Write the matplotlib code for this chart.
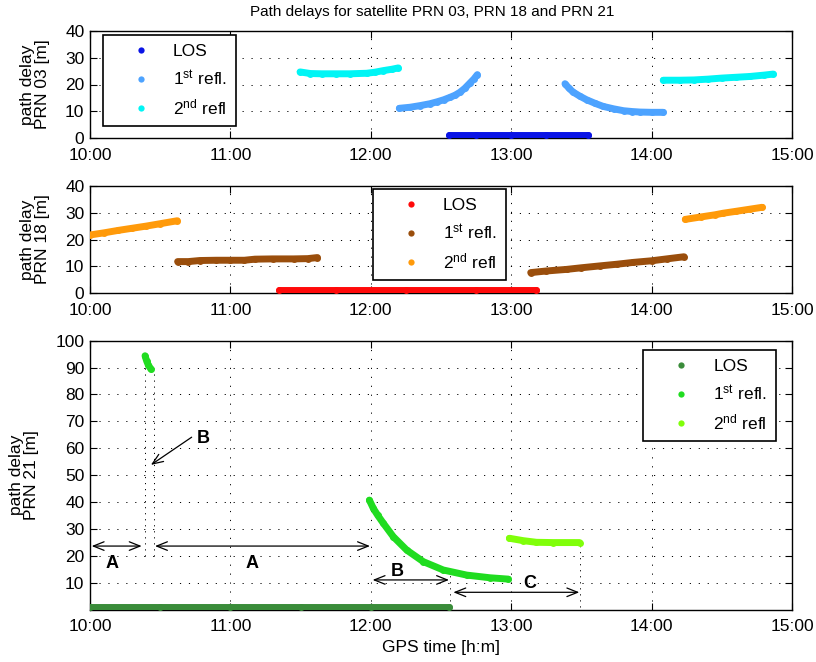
import numpy as np
import matplotlib
matplotlib.use("Agg")
import matplotlib.pyplot as plt
from matplotlib.lines import Line2D

plt.rcParams['font.family'] = ['Liberation Sans', 'DejaVu Sans']
plt.rcParams['mathtext.fontset'] = 'custom'
plt.rcParams['mathtext.rm'] = 'Liberation Sans'
plt.rcParams['mathtext.it'] = 'Liberation Sans'
nan = np.nan

# ---------------- data (GPS time in decimal hours, path delay in m) ----------------
xticks = [10, 11, 12, 13, 14, 15]
xticklabels = ['10:00', '11:00', '12:00', '13:00', '14:00', '15:00']
legend_labels = ['LOS', r'1$^{\rm st}$ refl.', r'2$^{\rm nd}$ refl']

# PRN 03
prn03_los_t = [12.555, 12.75, 13.0, 13.25, 13.548]
prn03_los_v = [1.2, 1.2, 1.2, 1.2, 1.2]
prn03_r1_t = [12.203, 12.28, 12.35, 12.42, 12.47, 12.52, 12.564, 12.60, 12.635, 12.67, 12.707, 12.735, 12.759,
              nan,
              13.383, 13.41, 13.44, 13.49, 13.537, 13.60, 13.656, 13.73, 13.80, 13.86, 13.917, 14.0, 14.083]
prn03_r1_v = [11.1, 11.5, 12.1, 12.8, 13.5, 14.3, 15.2, 16.0, 17.1, 18.6, 20.6, 22.1, 23.7,
              nan,
              20.3, 18.7, 17.2, 15.6, 14.3, 12.9, 11.8, 10.9, 10.2, 9.9, 9.7, 9.6, 9.6]
prn03_r2_t = [11.496, 11.57, 11.65, 11.75, 11.85, 11.97, 12.03, 12.09, 12.15, 12.196,
              nan,
              14.083, 14.2, 14.3, 14.4, 14.5, 14.6, 14.7, 14.8, 14.867]
prn03_r2_v = [24.7, 24.1, 24.0, 24.0, 24.0, 24.2, 24.6, 25.2, 25.7, 26.2,
              nan,
              21.6, 21.6, 21.7, 22.0, 22.4, 22.7, 23.0, 23.5, 23.9]

# PRN 18
prn18_los_t = [11.346, 11.75, 12.25, 12.75, 13.177]
prn18_los_v = [1.2, 1.2, 1.2, 1.2, 1.2]
prn18_r1_t = [10.624, 10.70, 10.783, 10.9, 11.0, 11.1, 11.175, 11.3, 11.45, 11.55, 11.62,
              nan,
              13.139, 13.25, 13.395, 13.5, 13.632, 13.75, 13.87, 14.0, 14.107, 14.231]
prn18_r1_v = [11.8, 11.8, 12.2, 12.3, 12.3, 12.3, 12.7, 12.8, 12.8, 12.9, 13.3,
              nan,
              7.7, 8.3, 8.9, 9.5, 10.2, 10.8, 11.5, 12.1, 12.8, 13.6]
prn18_r2_t = [10.0, 10.1, 10.2, 10.3, 10.4, 10.5, 10.622,
              nan,
              14.24, 14.35, 14.45, 14.51, 14.6, 14.7, 14.788]
prn18_r2_v = [21.7, 22.5, 23.4, 24.2, 25.0, 25.9, 27.0,
              nan,
              27.5, 28.4, 29.2, 29.8, 30.5, 31.3, 32.0]

# PRN 21
prn21_los_t = [10.0, 10.5, 11.0, 11.5, 12.0, 12.557]
prn21_los_v = [1.0, 1.0, 1.0, 1.0, 1.0, 1.0]
prn21_r1_t = [10.392, 10.404, 10.415, 10.434,
              nan,
              11.99, 12.018, 12.05, 12.089, 12.16, 12.256, 12.374, 12.516, 12.683, 12.849, 12.98]
prn21_r1_v = [94.4, 92.4, 91.0, 89.4,
              nan,
              40.7, 37.6, 35.0, 32.1, 27.1, 22.1, 17.8, 14.7, 12.8, 11.8, 11.3]
prn21_r2_t = [12.987, 13.087, 13.18, 13.3, 13.487]
prn21_r2_v = [26.5, 25.6, 25.0, 24.9, 24.9]

# annotations on PRN 21 panel
vline_t = [10.39, 10.455, 12.565, 13.49]
vline_lo = [20, 20, 1, 1]
vline_hi = [93, 89, 15, 25]
dbl_arrows = [  # (t_start, t_end, y)
    (10.012, 10.368, 23.6),
    (10.463, 11.994, 23.6),
    (12.013, 12.557, 11.0),
    (12.588, 13.485, 6.4),
]
arrow_labels = [('A', 10.158, 17.2), ('A', 11.156, 17.2), ('B', 12.189, 14.3), ('C', 13.134, 9.6), ('B', 10.81, 63.7)]
single_arrow = (10.724, 64.1, 10.434, 53.8)

colors03 = ['#0a14e6', '#4da3ff', '#00f5f5']
colors18 = ['#ff0a0a', '#9a4e0c', '#ff9a0a']
colors21 = ['#3a8c3a', '#20dc20', '#80ff0a']

# ---------------- figure ----------------
W, H = 816, 662
fig = plt.figure(figsize=(W / 100, H / 100), dpi=100)

def px_axes(x0, x1, ytop, ybot):
    return fig.add_axes([x0 / W, 1 - ybot / H, (x1 - x0) / W, (ybot - ytop) / H])

ax1 = px_axes(90, 792, 31, 138)
ax2 = px_axes(90, 792, 185.8, 293.3)
ax3 = px_axes(90, 792, 340.7, 609.5)

LW = 5.0

def draw(ax, series, cols):
    for (t, v), c in zip(series, cols):
        ax.plot(t, v, '-o', color=c, lw=LW, ms=LW, mew=0, solid_capstyle='round',
                solid_joinstyle='round', zorder=3)

draw(ax1, [(prn03_los_t, prn03_los_v), (prn03_r1_t, prn03_r1_v), (prn03_r2_t, prn03_r2_v)], colors03)
draw(ax2, [(prn18_los_t, prn18_los_v), (prn18_r1_t, prn18_r1_v), (prn18_r2_t, prn18_r2_v)], colors18)
draw(ax3, [(prn21_los_t, prn21_los_v), (prn21_r1_t, prn21_r1_v), (prn21_r2_t, prn21_r2_v)], colors21)

for ax, ylim, yt in [(ax1, (0, 40), [0, 10, 20, 30, 40]),
                     (ax2, (0, 40), [0, 10, 20, 30, 40]),
                     (ax3, (0, 100), [10, 20, 30, 40, 50, 60, 70, 80, 90, 100])]:
    ax.set_xlim(10, 15)
    ax.set_ylim(*ylim)
    ax.set_xticks(xticks)
    ax.set_xticklabels(xticklabels)
    ax.set_yticks(yt)
    ax.tick_params(direction='in', top=True, right=True, length=5, width=0.8,
                   labelsize=12.5)
    ax.tick_params(axis='x', pad=7)
    ax.tick_params(axis='y', pad=4)
    ax.grid(True, color='black', linestyle=(0, (1.2, 8)), linewidth=0.7)
    ax.set_axisbelow(True)
    for s in ax.spines.values():
        s.set_linewidth(1.0)

ax1.set_ylabel('path delay\nPRN 03 [m]', fontsize=12.5, linespacing=1.0)
ax2.set_ylabel('path delay\nPRN 18 [m]', fontsize=12.5, linespacing=1.0)
ax3.set_ylabel('path delay\nPRN 21 [m]', fontsize=12.5, linespacing=1.0)
ax1.yaxis.set_label_coords(-0.057, 0.5)
ax2.yaxis.set_label_coords(-0.057, 0.5)
ax3.yaxis.set_label_coords(-0.072, 0.5)
ax3.set_xlabel('GPS time [h:m]', fontsize=12.5, labelpad=4)

fig.text(432 / W, 1 - 12 / H, 'Path delays for satellite PRN 03, PRN 18 and PRN 21',
         ha='center', va='center', fontsize=11)

def legend(ax, cols, anchor):
    handles = [Line2D([], [], ls='none', marker='o', ms=4.5, mew=0, color=c) for c in cols]
    leg = ax.legend(handles, legend_labels, loc='upper left', bbox_to_anchor=anchor,
                    borderaxespad=0, fancybox=False, edgecolor='black', framealpha=1,
                    fontsize=12.5, handlelength=3.4, handletextpad=0.15, borderpad=0.5,
                    labelspacing=0.55)
    leg.get_frame().set_linewidth(1.2)
    leg.set_zorder(5)

legend(ax1, colors03, (0.0181, 0.965))
legend(ax2, colors18, (0.4027, 0.970))
legend(ax3, colors21, (0.788, 0.966))

# annotations
for t, lo, hi in zip(vline_t, vline_lo, vline_hi):
    ax3.plot([t, t], [lo, hi], color='black', linestyle=(0, (1.2, 5)), lw=0.7, zorder=2)
for t0, t1, y in dbl_arrows:
    ax3.annotate('', xy=(t1, y), xytext=(t0, y),
                 arrowprops=dict(arrowstyle='<->,head_length=0.55,head_width=0.22',
                                 color='black', lw=0.9, shrinkA=0, shrinkB=0, mutation_scale=14))
x0, y0, x1, y1 = single_arrow
ax3.annotate('', xy=(x1, y1), xytext=(x0, y0),
             arrowprops=dict(arrowstyle='->,head_length=0.55,head_width=0.22',
                             color='black', lw=0.9, shrinkA=0, shrinkB=0, mutation_scale=14))
for s, t, y in arrow_labels:
    ax3.text(t, y, s, ha='center', va='center', fontsize=13, fontweight='bold')

fig.savefig('out.png', dpi=100)
